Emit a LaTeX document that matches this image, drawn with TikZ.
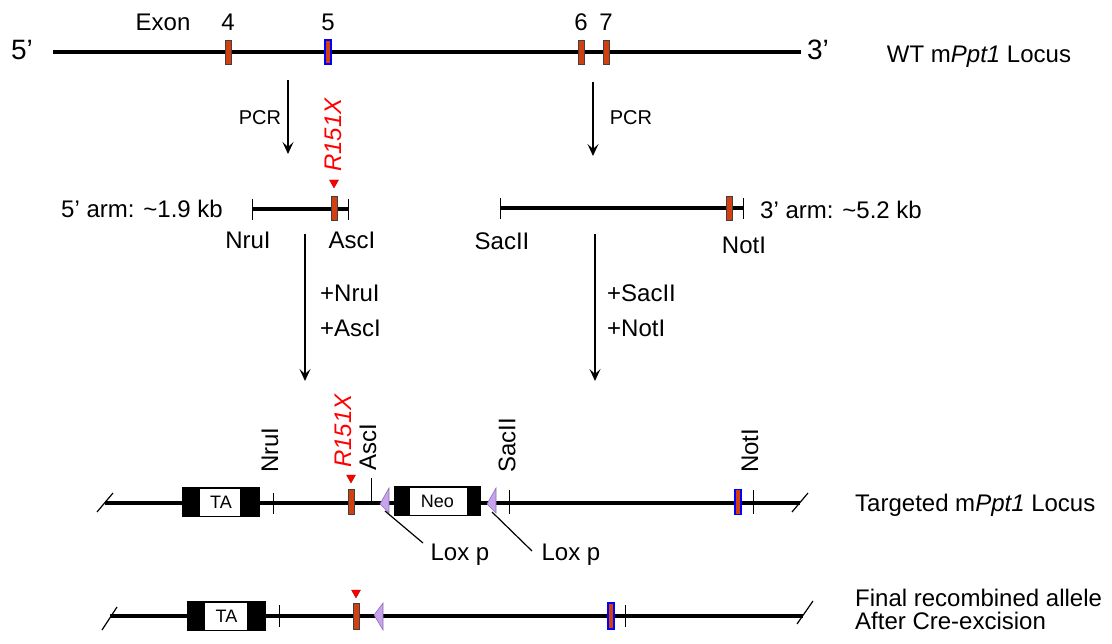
\documentclass[tikz,border=0pt]{standalone}
\usepackage{fontspec}
\setmainfont{Liberation Sans}
\usetikzlibrary{arrows.meta}
\definecolor{exred}{HTML}{D2400F}
\definecolor{loxc}{HTML}{C9A2EE}
\definecolor{loxd}{HTML}{8A70B0}
\tikzset{
  dnaline/.style={line width=3.6pt},
  armline/.style={line width=3.4pt},
  tk/.style={line width=0.9pt},
  lbl/.style={font=\fontsize{24}{28}\selectfont, inner sep=0pt},
  big/.style={font=\fontsize{28}{32}\selectfont, inner sep=0pt},
  small/.style={font=\fontsize{20}{24}\selectfont, inner sep=0pt},
  mut/.style={font=\fontsize{24}{28}\selectfont\itshape, text=red, inner sep=0pt, rotate=90, anchor=west},
  site/.style={font=\fontsize{24}{28}\selectfont, inner sep=0pt, rotate=90, anchor=west},
  exon/.style={draw=black!75, fill=exred, line width=0.5pt, minimum width=6pt, minimum height=24pt, inner sep=0pt},
  exonb/.style={exon, draw=blue, line width=1.4pt},
  flow/.style={-{Stealth[length=12pt,width=11pt,inset=5pt]}, line width=1.4pt},
  cass/.style={draw=black, fill=white, line width=0.8pt, minimum height=28pt, inner sep=0pt, font=\fontsize{18}{22}\selectfont},
  lox/.style={draw=loxd, fill=loxc, line width=0.6pt},
  mtri/.style={fill=red, draw=red!60!black, line width=0.3pt},
  slash/.style={line width=1.2pt},
  ptr/.style={line width=1.2pt}
}
\begin{document}
\begin{tikzpicture}[x=1pt,y=-1pt]
\useasboundingbox (0,0) rectangle (1112,644);

% ---------- Row 1: WT locus ----------
\coordinate (w0) at (53,52);
\coordinate (w1) at (801,52);
\draw[dnaline] (w0) -- (w1);
\node[big] (p5) at (22,50) {5’};
\node[big] (p3) at (818,50) {3’};
\node[exon]  (e4) at (228,52) {};
\node[exonb] (e5) at (328,52) {};
\node[exon]  (e6) at (581,52) {};
\node[exon]  (e7) at (606,52) {};
\node[lbl] (exl) at (163,22) {Exon};
\node[lbl] (n4) at (228,22) {4};
\node[lbl] (n5) at (328,22) {5};
\node[lbl] (n6) at (581,22) {6};
\node[lbl] (n7) at (606,22) {7};
\node[lbl] (wtl) at (979,57) {WT m\textit{Ppt1} Locus};

% PCR arrows
\coordinate (pa0) at (288,80);
\coordinate (pa1) at (288,154);
\coordinate (pb0) at (593,82);
\coordinate (pb1) at (593,156);
\draw[flow] (pa0) -- (pa1);
\draw[flow] (pb0) -- (pb1);
\node[small] (pcra) at (260,118) {PCR};
\node[small] (pcrb) at (631,118) {PCR};

% ---------- Row 2: arms ----------
\coordinate (a0) at (252,209);
\coordinate (a1) at (348,209);
\draw[armline] (a0) -- (a1);
\draw[tk] (252,199) -- (252,220);
\draw[tk] (348,199) -- (348,220);
\node[exon] (ea) at (334,208) {};
\draw[mtri] (329.5,180) -- (338.5,180) -- (334,188) -- cycle;
\node[mut] (r1) at (333,172) {R151X};
\node[lbl] (arm5) at (142,209) {5’ arm: \textasciitilde1.9 kb};
\node[lbl] (nru1) at (248,240) {NruI};
\node[lbl] (asc1) at (352,240) {AscI};

\coordinate (b0) at (500,208);
\coordinate (b1) at (743,208);
\draw[armline] (b0) -- (b1);
\draw[tk] (500,198) -- (500,219);
\draw[tk] (743,198) -- (743,219);
\node[exon] (eb) at (729,208) {};
\node[lbl] (arm3) at (841,210) {3’ arm: \textasciitilde5.2 kb};
\node[lbl] (sac1) at (502,241) {SacII};
\node[lbl] (not1) at (744,245) {NotI};

% digestion arrows
\coordinate (da0) at (305,234);
\coordinate (da1) at (305,381);
\coordinate (db0) at (595,234);
\coordinate (db1) at (595,381);
\draw[flow] (da0) -- (da1);
\draw[flow] (db0) -- (db1);
\node[lbl, anchor=west] (pn) at (320,293) {+NruI};
\node[lbl, anchor=west] (pa) at (320,328) {+AscI};
\node[lbl, anchor=west] (ps) at (607,293) {+SacII};
\node[lbl, anchor=west] (pno) at (607,328) {+NotI};

% ---------- Row 3: targeted locus ----------
\coordinate (t0) at (105,503);
\coordinate (t1) at (800,503);
\draw[dnaline] (t0) -- (t1);
\draw[slash] (97,512) -- (113,493);
\draw[slash] (792,512) -- (808,493);
\node[cass, minimum width=76pt] (ta) at (221,502) {TA};
\fill (ta.north west) rectangle ++(17,28);
\fill (ta.north east) rectangle ++(-19,28);
\draw[line width=0.8pt] (ta.north west) rectangle (ta.south east);
\draw[tk] (273,493) -- (273,514);
\node[site] (nru2) at (270,473) {NruI};
\node[exon, minimum height=25pt] (et) at (351,502) {};
\draw[mtri] (346.5,475) -- (355.5,475) -- (351,483) -- cycle;
\node[mut] (r2) at (343,468) {R151X};
\draw[tk] (371,478) -- (371,503);
\node[site] (asc2) at (368,471) {AscI};
\draw[lox] (380,504) -- (389,488) -- (389,513) -- cycle;
\coordinate (lx1) at (385,511);
\node[cass, minimum width=85pt] (neo) at (437.5,501) {Neo};
\fill (neo.north west) rectangle ++(15,28);
\fill (neo.north east) rectangle ++(-13,28);
\draw[line width=0.8pt] (neo.north west) rectangle (neo.south east);
\draw[lox] (487,504) -- (496,488) -- (496,513) -- cycle;
\coordinate (lx2) at (492,512);
\draw[tk] (509,490) -- (509,514);
\node[site] (sac2) at (507,473) {SacII};
\node[exonb, minimum height=25pt] (en) at (738,502) {};
\draw[tk] (753,490) -- (753,514);
\node[site] (not2) at (750,473) {NotI};
\node[lbl] (lp1) at (460,555) {Lox p};
\node[lbl] (lp2) at (571,555) {Lox p};
\draw[ptr] (lx1) -- (423,543);
\draw[ptr] (lx2) -- (532,551);
\node[lbl, anchor=west] (tgl) at (855,505) {Targeted m\textit{Ppt1} Locus};

% ---------- Row 4: final allele ----------
\coordinate (f0) at (110,616);
\coordinate (f1) at (803,616);
\draw[dnaline] (f0) -- (f1);
\draw[slash] (102,630) -- (117,607);
\draw[slash] (797,624) -- (813,601);
\node[cass, minimum width=77pt] (ta2) at (226.5,616) {TA};
\fill (ta2.north west) rectangle ++(17,28);
\fill (ta2.north east) rectangle ++(-18,28);
\draw[line width=0.8pt] (ta2.north west) rectangle (ta2.south east);
\draw[tk] (279,605) -- (279,627);
\node[exon, minimum height=26pt] (ef) at (356,616) {};
\draw[mtri] (351.5,590) -- (360.5,590) -- (356,598) -- cycle;
\draw[lox] (374,615) -- (383,603) -- (383,630) -- cycle;
\node[exonb, minimum height=26pt] (efb) at (611,616) {};
\draw[tk] (625,605) -- (625,627);
\node[lbl, anchor=west] (fl1) at (855,598) {Final recombined allele};
\node[lbl, anchor=west] (fl2) at (855,621) {After Cre-excision};
\end{tikzpicture}
\end{document}
